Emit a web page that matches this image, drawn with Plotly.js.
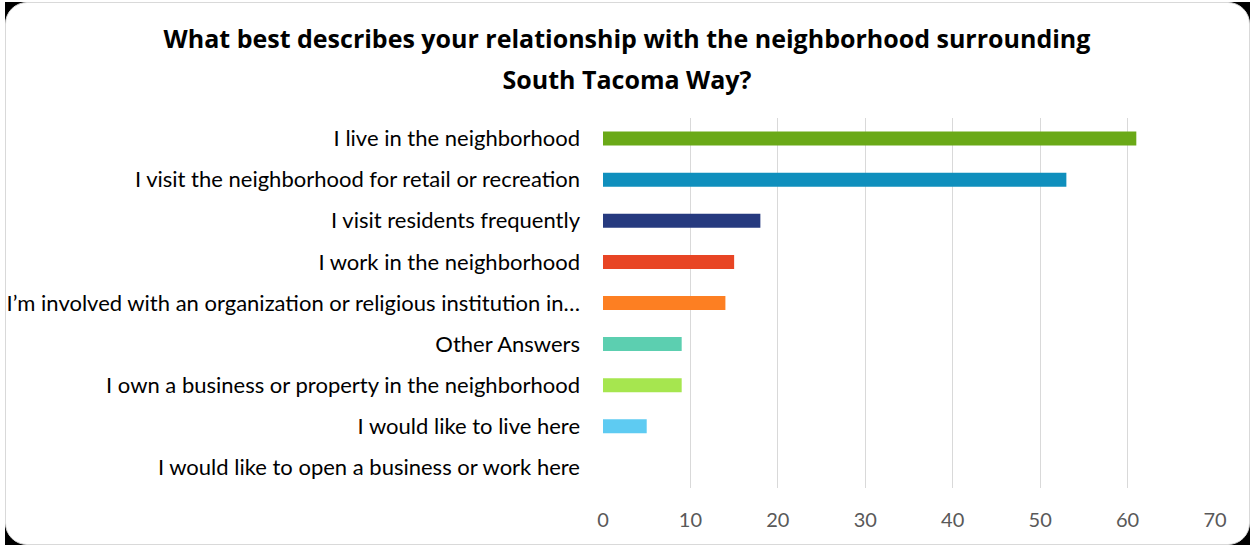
<!DOCTYPE html>
<html><head><meta charset="utf-8">
<script src="https://cdn.plot.ly/plotly-3.0.1.min.js"></script>
<style>
html,body{margin:0;padding:0;width:1254px;height:548px;background:#fff;overflow:hidden;}
.corner{position:absolute;width:24px;height:24px;background:#000;}
#box{position:absolute;left:5px;top:2px;width:1243px;height:541px;border:1px solid #d9d9d9;border-radius:22px;background:#fff;}
#chart{position:absolute;left:0;top:0;width:1254px;height:548px;}
</style></head>
<body>
<div class="corner" style="left:5px;top:2px"></div>
<div class="corner" style="left:1226px;top:2px"></div>
<div class="corner" style="left:5px;top:521px"></div>
<div class="corner" style="left:1226px;top:521px"></div>
<div id="box"></div>
<div id="chart"></div>
<script>
const categories = [
  "I live in the neighborhood",
  "I visit the neighborhood for retail or recreation",
  "I visit residents frequently",
  "I work in the neighborhood",
  "I’m involved with an organization or religious institution in…",
  "Other Answers",
  "I own a business or property in the neighborhood",
  "I would like to live here",
  "I would like to open a business or work here"
];
const values = [61, 53, 18, 15, 14, 9, 9, 5, 0];
const colors = ["#6aa917","#0f8fbd","#263a7f","#e84524","#fd7f22","#5ccfb0","#a6e64f","#5ecbf2","#999999"];
const tickValues = [0,10,20,30,40,50,60,70];

const trace = {
  type: "bar", orientation: "h",
  y: categories, x: values,
  marker: {color: colors},
  width: 0.34,
  hoverinfo: "x+y"
};
const layout = {
  width: 1254, height: 548,
  paper_bgcolor: "rgba(0,0,0,0)", plot_bgcolor: "rgba(0,0,0,0)",
  margin: {l: 603, r: 39, t: 118, b: 60},
  title: {text: "<b><span style='font-size:25px'>What best describes your relationship with the neighborhood surrounding</span><br><span style='font-size:25px'>South Tacoma Way?</span></b>",
          font: {family: "Open Sans, sans-serif", size: 31, color: "#000"},
          x: 0.5, xanchor: "center", yref: "container", y: 0.912, yanchor: "top"},
  xaxis: {range: [0, 70], tickvals: tickValues, showgrid: true, gridcolor: "#d9d9d9", gridwidth: 1.3,
          zeroline: false, showline: false,
          tickfont: {family: "Lato, sans-serif", size: 20, color: "#595959"}, ticks: "", ticklabelstandoff: 18},
  yaxis: {autorange: "reversed", showgrid: false, zeroline: false, showline: false, ticks: "",
          tickfont: {family: "Lato, sans-serif", size: 22, color: "#000"}, ticklabelstandoff: 22},
  showlegend: false, bargap: 0.66
};
Plotly.newPlot("chart", [trace], layout, {displayModeBar: false});
</script>
</body></html>
